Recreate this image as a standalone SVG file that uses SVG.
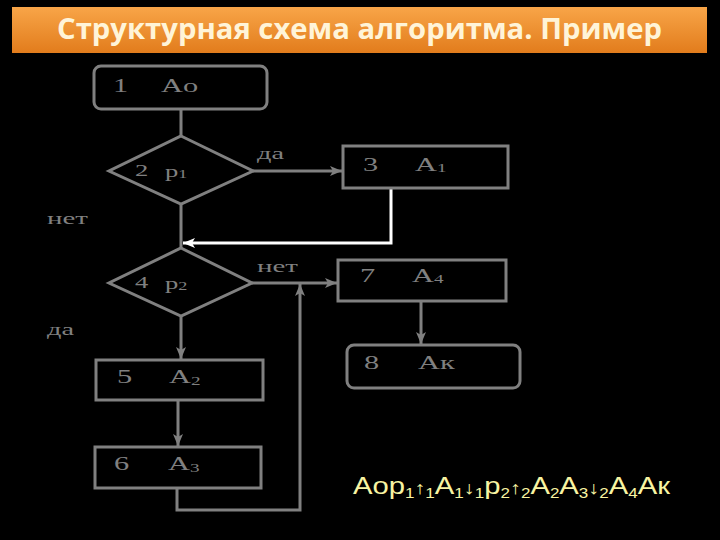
<svg xmlns="http://www.w3.org/2000/svg" width="720" height="540" viewBox="0 0 720 540">
<defs>
<linearGradient id="tg" x1="0" y1="0" x2="0" y2="1">
<stop offset="0" stop-color="#F8A548"/>
<stop offset="1" stop-color="#E27C1C"/>
</linearGradient>
<marker id="ah" viewBox="0 0 12 10" refX="12" refY="5" markerWidth="12" markerHeight="10" orient="auto" markerUnits="userSpaceOnUse"><path d="M0,0 L12,5 L0,10 L3,5 z" fill="#808080"/></marker>
<marker id="aw" viewBox="0 0 12 10" refX="12" refY="5" markerWidth="12" markerHeight="10" orient="auto" markerUnits="userSpaceOnUse"><path d="M0,0 L12,5 L0,10 L3,5 z" fill="#FFFFFF"/></marker>
<style>
.box{fill:none;stroke:#808080;stroke-width:3}
.ln{fill:none;stroke:#808080;stroke-width:3}
.wl{fill:none;stroke:#FFFFFF;stroke-width:3}
.t{font-family:"Liberation Serif",serif;font-size:19px;fill:#808080}
.lb{font-family:"Liberation Serif",serif;font-size:16px;fill:#808080}
.f{font-family:"Liberation Sans",Arial,sans-serif;font-size:24px;fill:#F8F4A2}
.title{font-family:"Open Sans","Liberation Sans",sans-serif;font-weight:bold;font-size:29px;fill:#FFF4D8}
</style>
</defs>
<rect width="720" height="540" fill="#000000"/>
<g id="title">
<rect x="12" y="7" width="695" height="46" fill="url(#tg)"/>
<text class="title" x="57" y="39" textLength="605" lengthAdjust="spacingAndGlyphs">Структурная схема алгоритма. Пример</text>
</g>
<g id="connectors">
<line class="ln" x1="181" y1="109" x2="181" y2="136"/>
<line class="ln" x1="253" y1="171" x2="342" y2="171" marker-end="url(#ah)"/>
<line class="ln" x1="181" y1="204" x2="181" y2="248"/>
<polyline class="wl" points="391,188 391,243 183,243" marker-end="url(#aw)"/>
<line class="ln" x1="252" y1="283" x2="337" y2="283" marker-end="url(#ah)"/>
<line class="ln" x1="181" y1="316" x2="181" y2="359" marker-end="url(#ah)"/>
<line class="ln" x1="421" y1="301" x2="421" y2="344" marker-end="url(#ah)"/>
<line class="ln" x1="178" y1="400" x2="178" y2="446" marker-end="url(#ah)"/>
<polyline class="ln" points="177,488 177,510 300,510 300,284" marker-end="url(#ah)"/>
<text class="lb" x="257" y="159" textLength="27" lengthAdjust="spacingAndGlyphs">да</text>
<text class="lb" x="47" y="224" textLength="41" lengthAdjust="spacingAndGlyphs">нет</text>
<text class="lb" x="257" y="272" textLength="41" lengthAdjust="spacingAndGlyphs">нет</text>
<text class="lb" x="47" y="335" textLength="27" lengthAdjust="spacingAndGlyphs">да</text>
</g>
<g id="n1">
<rect class="box" x="94" y="66" width="173" height="43" rx="7"/>
<text class="t" transform="translate(113,92) scale(1.6,1)">1</text>
<text class="t" transform="translate(161,92) scale(1.6,1)">Ao</text>
</g>
<g id="n2">
<polygon class="box" points="181,136 253,171 181,204 109,171"/>
<text class="t" transform="translate(135,176) scale(1.4,0.9)">2</text>
<text class="t" transform="translate(165,177) scale(1.4,0.9)">p<tspan font-size="13" dy="1">1</tspan></text>
</g>
<g id="n3">
<rect class="box" x="343" y="146" width="165" height="42"/>
<text class="t" transform="translate(363,171) scale(1.6,1)">3</text>
<text class="t" transform="translate(415,171) scale(1.6,1)">A<tspan font-size="12" dy="1">1</tspan></text>
</g>
<g id="n4">
<polygon class="box" points="181,248 252,283 181,316 109,283"/>
<text class="t" transform="translate(135,288) scale(1.4,0.9)">4</text>
<text class="t" transform="translate(165,289) scale(1.4,0.9)">p<tspan font-size="13" dy="1">2</tspan></text>
</g>
<g id="n5">
<rect class="box" x="96" y="360" width="167" height="40"/>
<text class="t" transform="translate(117,383) scale(1.6,1)">5</text>
<text class="t" transform="translate(169,383) scale(1.6,1)">A<tspan font-size="12" dy="2">2</tspan></text>
</g>
<g id="n6">
<rect class="box" x="95" y="447" width="166" height="41"/>
<text class="t" transform="translate(114,470) scale(1.6,1)">6</text>
<text class="t" transform="translate(168,470) scale(1.6,1)">A<tspan font-size="12" dy="2">3</tspan></text>
</g>
<g id="n7">
<rect class="box" x="338" y="260" width="168" height="41"/>
<text class="t" transform="translate(360,282) scale(1.6,1)">7</text>
<text class="t" transform="translate(412,282) scale(1.6,1)">A<tspan font-size="12" dy="1">4</tspan></text>
</g>
<g id="n8">
<rect class="box" x="347" y="345" width="173" height="43" rx="7"/>
<text class="t" transform="translate(364,369) scale(1.6,1)">8</text>
<text class="t" transform="translate(418,369) scale(1.6,1)">Aк</text>
</g>
<g id="formula">
<text class="f" x="353" y="494" textLength="317" lengthAdjust="spacingAndGlyphs">Аор<tspan font-size="14" dy="4">1</tspan><tspan font-size="18" dy="-4">↑</tspan><tspan font-size="14" dy="4">1</tspan><tspan dy="-4">А</tspan><tspan font-size="14" dy="4">1</tspan><tspan font-size="18" dy="-4">↓</tspan><tspan font-size="14" dy="4">1</tspan><tspan dy="-4">р</tspan><tspan font-size="14" dy="4">2</tspan><tspan font-size="18" dy="-4">↑</tspan><tspan font-size="14" dy="4">2</tspan><tspan dy="-4">А</tspan><tspan font-size="14" dy="4">2</tspan><tspan dy="-4">А</tspan><tspan font-size="14" dy="4">3</tspan><tspan font-size="18" dy="-4">↓</tspan><tspan font-size="14" dy="4">2</tspan><tspan dy="-4">А</tspan><tspan font-size="14" dy="4">4</tspan><tspan dy="-4">Ак</tspan></text>
</g>
</svg>
